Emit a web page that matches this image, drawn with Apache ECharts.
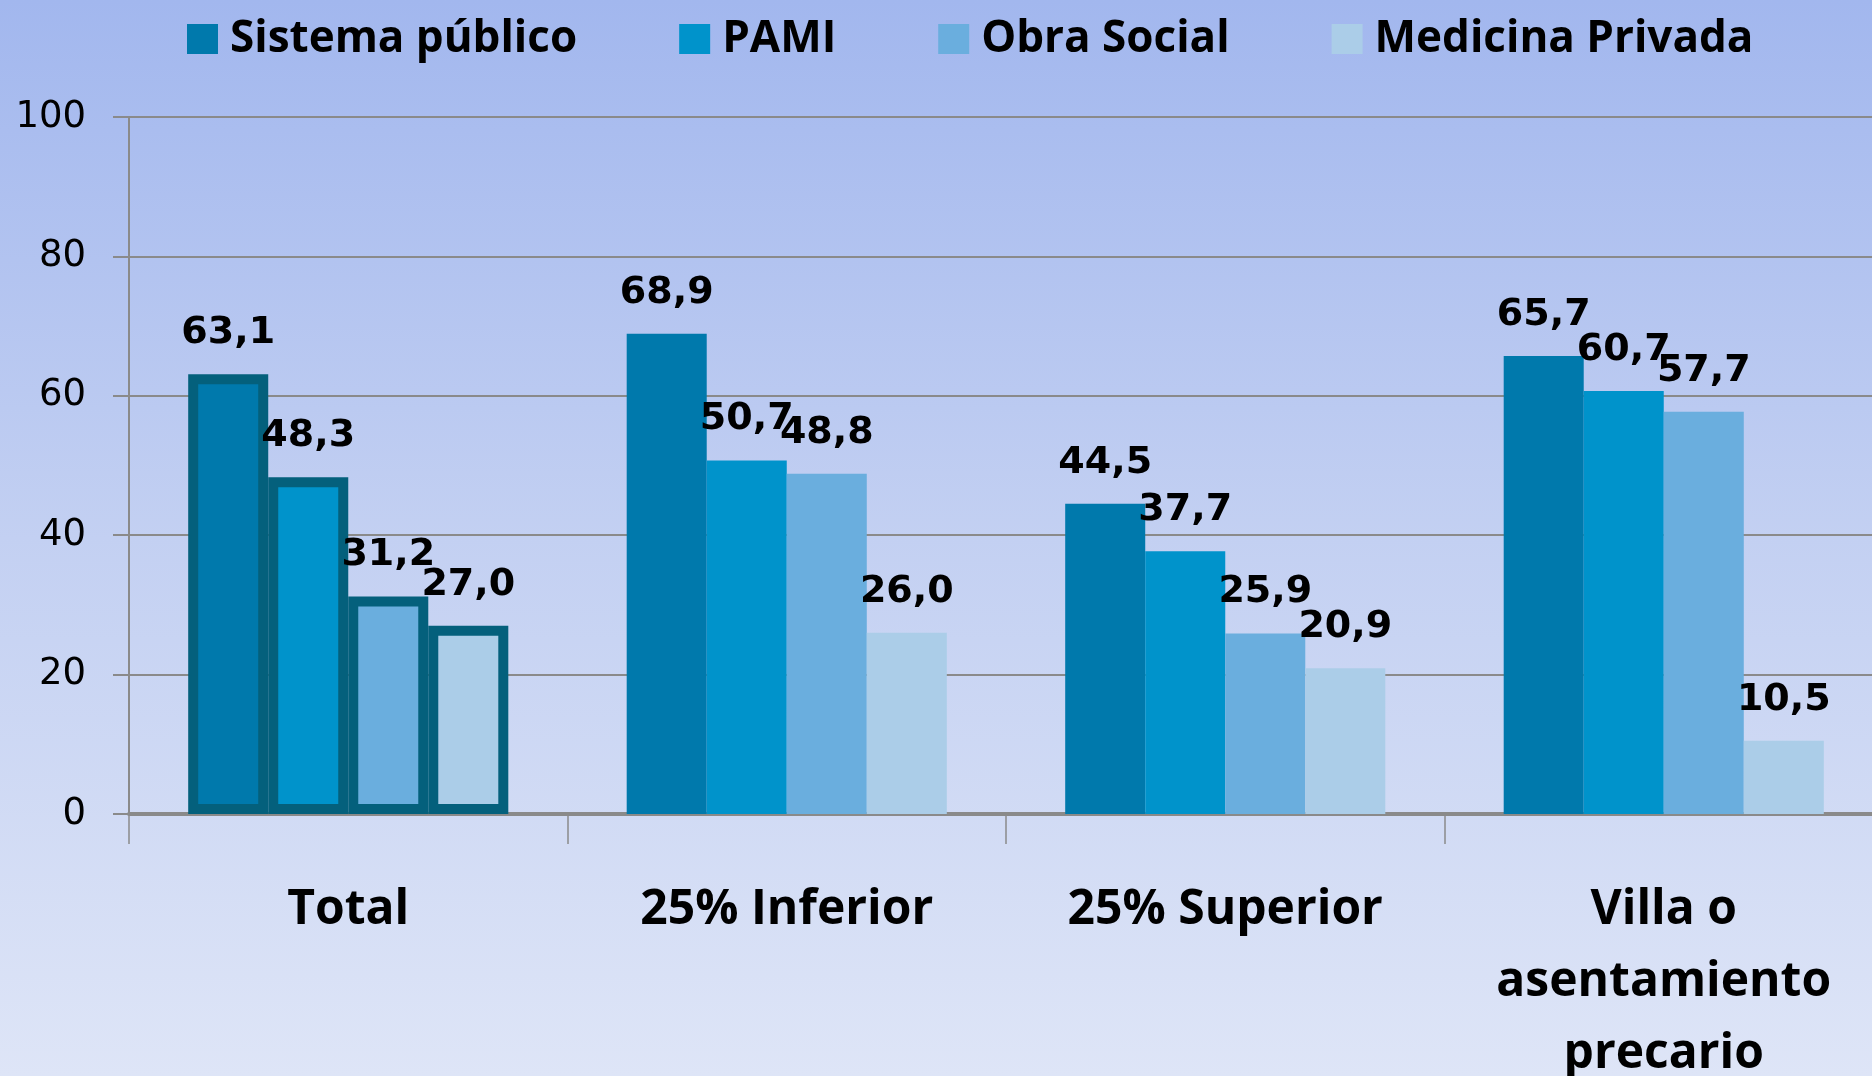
<!DOCTYPE html>
<html>
<head>
<meta charset="utf-8">
<script src="https://cdn.jsdelivr.net/npm/echarts@6/dist/echarts.min.js"></script>
<style>
    html, body {
        margin: 0;
        padding: 0;
    }

    #chart {
        width: 1872px;
        height: 1076px;
        background: linear-gradient(to bottom, #a2b7ee 0%, #c3d0f2 50%, #dee5f7 100%);
    }
</style>
</head>
<body>
<div id="chart"></div>
<script>
    const categories = ['Total', '25% Inferior', '25% Superior', 'Villa o\nasentamiento\nprecario']
    const seriesNames = ['Sistema público', 'PAMI', 'Obra Social', 'Medicina Privada']
    const sistemaPublico = [63.1, 68.9, 44.5, 65.7]
    const pami = [48.3, 50.7, 37.7, 60.7]
    const obraSocial = [31.2, 48.8, 25.9, 57.7]
    const medicinaPrivada = [27.0, 26.0, 20.9, 10.5]
    const yTicks = [0, 20, 40, 60, 80, 100]

    const colors = ['#0079ac', '#0093cb', '#6aaede', '#abcde8']
    const gray = '#8a8a8a'

    // only the "Total" group has the dark outline
    function withOutline(values) {
        return values.map((v, i) => i === 0
            ? {value: v, itemStyle: {borderColor: '#04607c', borderWidth: 10}}
            : v)
    }

    let chart = echarts.init(document.getElementById('chart'))
    let option = {
        backgroundColor: 'transparent',
        color: colors,
        legend: {
            top: 12,
            left: 182,
            itemWidth: 31,
            itemHeight: 30,
            itemGap: 102,
            icon: 'rect',
            textStyle: {
                fontFamily: 'Open Sans',
                fontWeight: 'bold',
                fontSize: 44,
                color: '#000',
                padding: [0, 0, 0, 7]
            },
            data: seriesNames
        },
        grid: {
            left: 129,
            right: -11,
            top: 117,
            bottom: 262,
            outerBoundsMode: 'none'
        },
        xAxis: {
            type: 'category',
            data: categories,
            axisLine: {lineStyle: {color: gray, width: 4}},
            axisTick: {show: true, length: 30, lineStyle: {color: gray, width: 1.5}},
            axisLabel: {
                margin: 60,
                interval: 0,
                fontFamily: 'Open Sans',
                fontWeight: 'bold',
                fontSize: 48,
                lineHeight: 72,
                color: '#000'
            }
        },
        yAxis: {
            type: 'value',
            min: yTicks[0],
            max: yTicks[yTicks.length - 1],
            interval: 20,
            axisLine: {show: true, lineStyle: {color: gray, width: 2}},
            axisTick: {show: true, length: 16, lineStyle: {color: gray, width: 2}},
            splitLine: {lineStyle: {color: gray, width: 2}},
            axisLabel: {
                margin: 43,
                fontFamily: 'DejaVu Sans',
                fontSize: 37,
                color: '#000'
            }
        },
        series: [sistemaPublico, pami, obraSocial, medicinaPrivada].map((values, i) => ({
            name: seriesNames[i],
            type: 'bar',
            barGap: 0,
            barCategoryGap: '27%',
            data: withOutline(values),
            label: {
                show: true,
                position: 'top',
                distance: 22,
                fontFamily: 'DejaVu Sans',
                fontWeight: 'bold',
                fontSize: 38,
                color: '#000',
                formatter: p => p.value.toFixed(1).replace('.', ',')
            }
        }))
    }
    chart.setOption(option)
</script>
</body>
</html>
